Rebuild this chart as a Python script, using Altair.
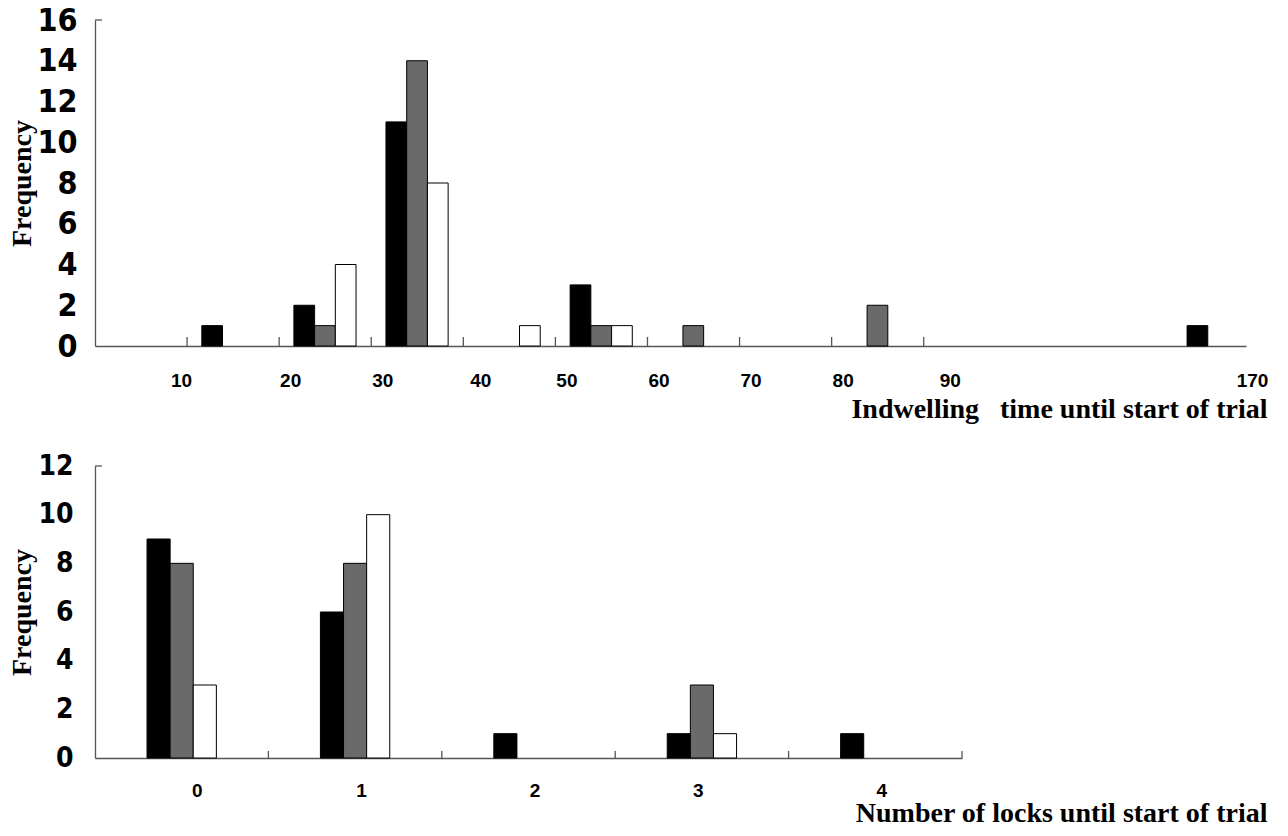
import json
import altair as alt
import pandas as pd

# ---------------- data ----------------
series = ["Group 1", "Group 2", "Group 3"]
fills = ["#000000", "#6a6a6a", "#ffffff"]

# Indwelling time histogram, broken axis after 90
time_bins = ["0-10", "10-20", "20-30", "30-40", "40-50", "50-60", "60-70", "70-80", "80-90", "160-170"]
time_slot = [0, 1, 2, 3, 4, 5, 6, 7, 8, 11.7]          # slot on the broken category axis
time_black = [0, 1, 2, 11, 0, 3, 0, 0, 0, 1]
time_gray = [0, 0, 1, 14, 0, 1, 1, 0, 2, 0]
time_white = [0, 0, 4, 8, 1, 1, 0, 0, 0, 0]
time_tick_labels = ["10", "20", "30", "40", "50", "60", "70", "80", "90", "170"]
time_tick_slots = [1, 2, 3, 4, 5, 6, 7, 8, 9, 12.5]
time_boundaries = [1, 2, 3, 4, 5, 6, 7, 8, 9]

# Number of locks
lock_bins = ["0", "1", "2", "3", "4"]
lock_slot = [0, 1, 2, 3, 4]
lock_black = [9, 6, 1, 1, 1]
lock_gray = [8, 8, 0, 3, 0]
lock_white = [3, 10, 0, 1, 0]
lock_tick_slots = [0.5, 1.5, 2.5, 3.5, 4.5]
lock_boundaries = [1, 2, 3, 4, 5]

NARROW = "Liberation Sans Narrow, DejaVu Sans Condensed, Arial Narrow, sans-serif"
SANS = "Liberation Sans, Arial, sans-serif"
SERIF = "Liberation Serif, Times New Roman, serif"
AXIS_COLOR = "#555555"


def bar_table(bins, slots, cols, offset, width):
    rows = []
    for i, b in enumerate(bins):
        for k, s in enumerate(series):
            v = cols[k][i]
            if v == 0:
                continue
            x0 = slots[i] + offset + k * width
            rows.append({"bin": b, "series": s, "count": v, "base": 0, "x0": x0, "x1": x0 + width})
    return pd.DataFrame(rows)


def panel(df, xmax, ymax, w, h, tick_vals, tick_labels, label_offset, boundaries,
          xtitle, ytitle_x, xtitle_x, xtitle_y, yfont, ypad, xpad, tick_len):
    expr = json.dumps({str(v): l for v, l in zip(tick_vals, tick_labels)}) + "[datum.value]"
    xscale = alt.Scale(domain=[0, xmax], nice=False, zero=False)
    yscale = alt.Scale(domain=[0, ymax], nice=False)
    bars = alt.Chart(df).mark_bar(stroke="black", strokeWidth=1).encode(
        x=alt.X("x0:Q", scale=xscale,
                axis=alt.Axis(values=tick_vals, labelExpr=expr, ticks=False, tickSize=0, grid=False,
                              domainColor=AXIS_COLOR, domainWidth=1.3,
                              labelFont=SANS, labelFontWeight="bold", labelFontSize=19,
                              labelColor="black", labelPadding=xpad, labelOffset=label_offset,
                              labelFlush=False, labelOverlap=False, labelBaseline="top",
                              title=xtitle, titleFont=SERIF, titleFontSize=28,
                              titleFontWeight="bold", titleColor="black",
                              titleAlign="right", titleBaseline="alphabetic",
                              titleX=xtitle_x, titleY=xtitle_y)),
        x2="x1:Q",
        y=alt.Y("count:Q", scale=yscale, stack=None,
                axis=alt.Axis(values=list(range(0, ymax + 1, 2)), ticks=False, tickSize=0, grid=False,
                              domainColor=AXIS_COLOR, domainWidth=1.3,
                              labelFont=NARROW, labelFontWeight="bold", labelFontSize=yfont,
                              labelColor="black", labelPadding=ypad,
                              title="Frequency", titleFont=SERIF, titleFontSize=28,
                              titleFontWeight="bold", titleColor="black", titleAngle=270,
                              titleAlign="center", titleBaseline="alphabetic",
                              titleX=ytitle_x, titleY=h / 2)),
        y2="base:Q",
        fill=alt.Fill("series:N", scale=alt.Scale(domain=series, range=fills), legend=None),
    )
    ticks = alt.Chart(pd.DataFrame({"b": boundaries})).mark_rule(color=AXIS_COLOR, strokeWidth=1.3).encode(
        x=alt.X("b:Q", scale=xscale),
        y=alt.value(h),
        y2=alt.value(h - tick_len),
    )
    cap = alt.Chart(pd.DataFrame({"top": [ymax]})).mark_rule(color=AXIS_COLOR, strokeWidth=1.3).encode(
        y=alt.Y("top:Q", scale=yscale),
        x=alt.value(0),
        x2=alt.value(7),
    )
    return alt.layer(bars, ticks, cap).properties(width=w, height=h)


top_df = bar_table(time_bins, time_slot, [time_black, time_gray, time_white], 0.16, 0.225)
bot_df = bar_table(lock_bins, lock_slot, [lock_black, lock_gray, lock_white], 0.3, 0.1333)

top_label_offset = {
    "condition": [
        {"test": "datum.value == 1", "value": -6},
        {"test": "datum.value == 4", "value": 17},
        {"test": "datum.value == 9", "value": 26},
        {"test": "datum.value == 12.5", "value": 6},
    ],
    "value": 11,
}
bottom_label_offset = {
    "condition": [
        {"test": "datum.value == 0.5", "value": 15},
        {"test": "datum.value == 3.5", "value": -4},
    ],
    "value": 6,
}

top = panel(top_df, 12.5, 16, 1151, 326, time_tick_slots, time_tick_labels, top_label_offset, time_boundaries,
            "Indwelling\u00a0\u00a0 time until start of trial", -65, 1172, 71, 32, 18, 25, 9)
bottom = panel(bot_df, 5, 12, 867, 292, lock_tick_slots, lock_bins, bottom_label_offset, lock_boundaries,
               "Number of locks until start of trial", -65, 1172, 63, 28, 22, 23, 7)

chart = alt.vconcat(top, bottom, spacing=29).configure_view(stroke=None).properties(
    padding={"left": 0, "top": -4, "right": 0, "bottom": 0}, background="white"
)

chart.save("out.html", embed_options={"renderer": "svg", "actions": False})
